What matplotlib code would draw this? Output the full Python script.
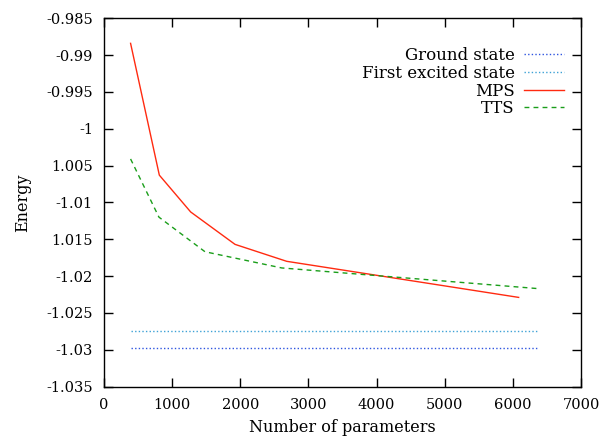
import numpy as np
import matplotlib
matplotlib.use('Agg')
import matplotlib.pyplot as plt

plt.rcParams['font.family'] = ['DejaVu Serif']
plt.rcParams['font.size'] = 10.5

# data
mps_x = [390, 812, 1272, 1923, 2681, 6085]
mps_y = [-0.9884, -1.0063, -1.0113, -1.0157, -1.0180, -1.0229]
tts_x = [390, 806, 1482, 2608, 6360]
tts_y = [-1.0041, -1.0120, -1.0167, -1.0189, -1.0217]
level_x = [390, 6385]
ground_e = -1.0298
excited_e = -1.0275

xticks = [0, 1000, 2000, 3000, 4000, 5000, 6000, 7000]
yticks = [-0.985, -0.99, -0.995, -1.0, -1.005, -1.01, -1.015, -1.02, -1.025, -1.03, -1.035]
# labels as they appear in the picture (two minus signs are hidden there)
ytick_labels = ['-0.985', '-0.99', '-0.995', '-1', '1.005', '-1.01', '1.015',
                '-1.02', '-1.025', '-1.03', '-1.035']

fig = plt.figure(figsize=(6.15, 4.41), dpi=100)
ax = fig.add_axes([104/615, 1 - 386.5/441, 477/615, 368.2/441])

ax.plot(level_x, [ground_e] * 2, color='#2f55e0', lw=1.0, ls=(0, (1, 1.6)),
        label='Ground state')
ax.plot(level_x, [excited_e] * 2, color='#3ea2d6', lw=1.0, ls=(0, (1, 1.6)),
        label='First excited state')
ax.plot(mps_x, mps_y, color='#ff2a10', lw=1.0, label='MPS')
ax.plot(tts_x, tts_y, color='#1a9e1a', lw=1.0, ls=(0, (3.5, 3)), label='TTS')

ax.set_xlim(0, 7000)
ax.set_ylim(-1.035, -0.985)
ax.set_xticks(xticks)
ax.set_yticks(yticks)
ax.set_yticklabels(ytick_labels)
ax.tick_params(direction='in', top=True, right=True, length=6.5, width=1,
               labelsize=10.5, pad=8)
for s in ax.spines.values():
    s.set_linewidth(1.0)

ax.set_xlabel('Number of parameters', fontsize=11.5, labelpad=5)
ax.set_ylabel('Energy', fontsize=11.5, labelpad=11)

# markerfirst=False right-aligns the rows, so texts line up on the right
ax.legend(loc='upper right', bbox_to_anchor=(1 - 17/477, 1 - 29/368.2),
          frameon=False, markerfirst=False, fontsize=12, handlelength=2.4,
          handletextpad=0.55, labelspacing=0.04, borderpad=0,
          borderaxespad=0)

fig.savefig('out.png', dpi=100)
